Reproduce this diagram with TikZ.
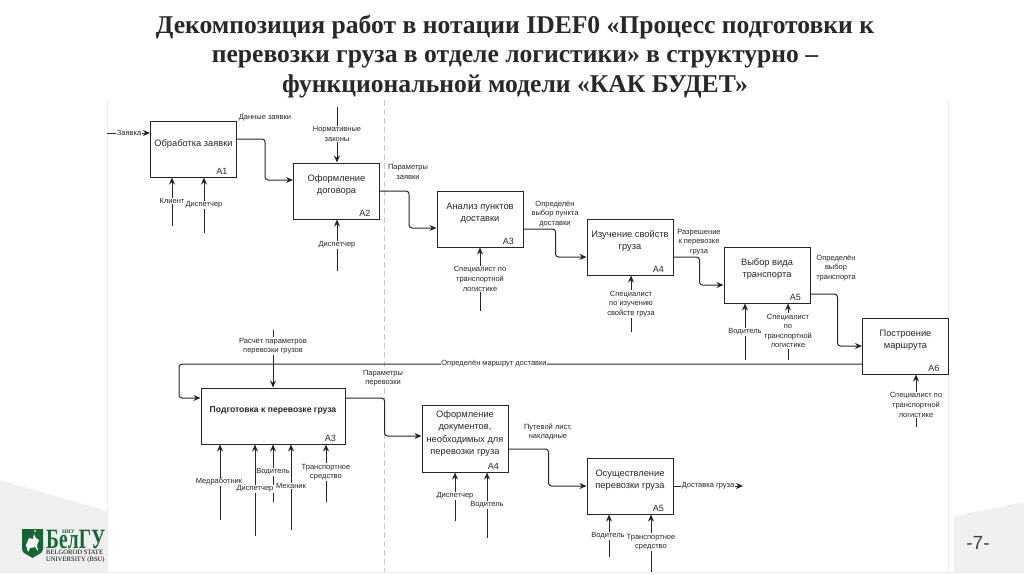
\documentclass[tikz,border=0pt]{standalone}
\usepackage{fontspec}
\setmainfont{Liberation Serif}
\setsansfont{Liberation Sans}
\usetikzlibrary{arrows.meta, positioning}
\definecolor{panelgray}{RGB}{240,240,240}
\definecolor{logogreen}{RGB}{22,101,52}
\definecolor{titlegray}{RGB}{40,40,40}

\begin{document}
\begin{tikzpicture}[
  x=1pt, y=-1pt,
  block/.style={draw, line width=1pt, black!85, minimum width=86pt, minimum height=56pt, inner sep=0pt},
  blocktext/.style={font=\sffamily\fontsize{9.3}{12.4}\selectfont, align=center, text=black!85, inner sep=0pt},
  num/.style={anchor=south east, font=\sffamily\fontsize{9}{10}\selectfont, text=black!85, inner xsep=9.5pt, inner ysep=2.5pt},
  lbl/.style={fill=white, font=\sffamily\fontsize{7.5}{9.6}\selectfont, align=center, text=black!85, inner sep=0.6pt},
  arr/.style={-{Stealth[length=7pt,width=6pt]}, line width=1pt, black!85},
  flow/.style={arr, rounded corners=3pt},
  logotext/.style={font=\bfseries\fontsize{28}{28}\selectfont, text=logogreen, anchor=base west, inner sep=0pt, xscale=0.69}
]
  \useasboundingbox (0,0) rectangle (1024,574);

  % Slide background
  \fill[panelgray] (0,480) -- (107,511) -- (107,572) -- (0,572) -- cycle;
  \fill[panelgray] (954,516) -- (1024,502) -- (1024,572) -- (954,572) -- cycle;
  \draw[gray!15] (107,100) -- (107,572);
  \draw[gray!15] (948,100) -- (948,572);
  \draw[gray!15] (0,572) -- (1024,572);

  % Title
  \node[font=\bfseries\fontsize{25.6}{29.6}\selectfont, align=center, text=titlegray, inner sep=0pt] (title) at (515,56.5)
    {Декомпозиция работ в нотации IDEF0 «Процесс подготовки к\\перевозки груза в отделе логистики» в структурно –\\функциональной модели «КАК БУДЕТ»};

  % Separator
  \coordinate (septop) at (384,100);
  \coordinate (sepbot) at (384,572);
  \draw[gray!45, dash pattern=on 6pt off 3pt] (septop) -- (sepbot);

  % Blocks
  \node[block] (a1) at (193.5,149) {};
  \node[block] (a2) at (336.5,191) {};
  \node[block] (a3) at (480,219) {};
  \node[block] (a4) at (630,247) {};
  \node[block] (a5) at (767,275) {};
  \node[block] (a6) at (905.5,346) {};
  \node[block, minimum width=144pt] (b3) at (273,416) {};
  \node[block, minimum height=67pt] (b4) at (465,438.5) {};
  \node[block] (b5) at (630,486) {};

  \node[blocktext] (a1t) at ([yshift=5pt]a1.center) {Обработка заявки};
  \node[blocktext] (a2t) at ([yshift=6pt]a2.center) {Оформление\\договора};
  \node[blocktext] (a3t) at ([yshift=6pt]a3.center) {Анализ пунктов\\доставки};
  \node[blocktext] (a4t) at ([yshift=6pt]a4.center) {Изучение свойств\\груза};
  \node[blocktext] (a5t) at ([yshift=6pt]a5.center) {Выбор вида\\транспорта};
  \node[blocktext] (a6t) at ([yshift=6pt]a6.center) {Построение\\маршрута};
  \node[blocktext, font=\sffamily\bfseries\fontsize{8.6}{12}\selectfont] (b3t) at ([yshift=6pt]b3.center) {Подготовка к перевозке груза};
  \node[blocktext] (b4t) at ([yshift=5pt]b4.center) {Оформление\\документов,\\необходимых для\\перевозки груза};
  \node[blocktext] (b5t) at ([yshift=6pt]b5.center) {Осуществление\\перевозки груза};

  \node[num] (a1n) at (a1.south east) {A1};
  \node[num] (a2n) at (a2.south east) {A2};
  \node[num] (a3n) at (a3.south east) {A3};
  \node[num] (a4n) at (a4.south east) {A4};
  \node[num] (a5n) at (a5.south east) {A5};
  \node[num] (a6n) at (a6.south east) {A6};
  \node[num] (b3n) at (b3.south east) {A3};
  \node[num] (b4n) at (b4.south east) {A4};
  \node[num] (b5n) at (b5.south east) {A5};

  % Free ends
  \coordinate (zin) at (107,133);
  \coordinate (a1c) at (172,226);
  \coordinate (a1d) at (204,233);
  \coordinate (a2z) at (337,107);
  \coordinate (a2d) at (337,271);
  \coordinate (a3s) at (480,311);
  \coordinate (a4s) at (631,332);
  \coordinate (a5v) at (745,360);
  \coordinate (a5s) at (788,360);
  \coordinate (a6s) at (916,427);
  \coordinate (b3r) at (273,330);
  \coordinate (b3m) at (220,520);
  \coordinate (b3d) at (255,536);
  \coordinate (b3v) at (273,502);
  \coordinate (b3k) at (291,530);
  \coordinate (b3t2) at (326,502);
  \coordinate (b4d) at (455,521);
  \coordinate (b4v) at (487,538);
  \coordinate (b5v) at (609,557);
  \coordinate (b5t2) at (651,572);
  \coordinate (bout) at (743,486);

  % Arrows
  \draw[flow] ([yshift=10pt]a1.east) -- ++(28,0) |- ([yshift=11pt]a2.west);
  \draw[flow] (a2.east) -- ++(29,0) |- ([yshift=-9pt]a3.west);
  \draw[flow] ([yshift=-10pt]a3.east) -- ++(32,0) |- ([yshift=-10pt]a4.west);
  \draw[flow] ([yshift=-10pt]a4.east) -- ++(26,0) |- ([yshift=-10pt]a5.west);
  \draw[flow] ([yshift=-19pt]a5.east) -- ++(27,0) |- (a6.west);
  \draw[flow] ([yshift=-18pt]a6.west) -- ++(-683,0) |- ([yshift=18pt]b3.west);
  \draw[flow] ([yshift=18pt]b3.east) -- ++(39,0) |- ([yshift=2.5pt]b4.west);
  \draw[flow] ([yshift=-10.5pt]b4.east) -- ++(40,0) |- (b5.west);

  \draw[arr] (zin) -- (zin -| a1.west);
  \draw[arr] (b5.east) -- (bout);
  \draw[arr] (a1c) -- (a1c |- a1.south);
  \draw[arr] (a1d) -- (a1d |- a1.south);
  \draw[arr] (a2z) -- (a2z |- a2.north);
  \draw[arr] (a2d) -- (a2d |- a2.south);
  \draw[arr] (a3s) -- (a3s |- a3.south);
  \draw[arr] (a4s) -- (a4s |- a4.south);
  \draw[arr] (a5v) -- (a5v |- a5.south);
  \draw[arr] (a5s) -- (a5s |- a5.south);
  \draw[arr] (a6s) -- (a6s |- a6.south);
  \draw[arr] (b3r) -- (b3r |- b3.north);
  \draw[arr] (b3m) -- (b3m |- b3.south);
  \draw[arr] (b3d) -- (b3d |- b3.south);
  \draw[arr] (b3v) -- (b3v |- b3.south);
  \draw[arr] (b3k) -- (b3k |- b3.south);
  \draw[arr] (b3t2) -- (b3t2 |- b3.south);
  \draw[arr] (b4d) -- (b4d |- b4.south);
  \draw[arr] (b4v) -- (b4v |- b4.south);
  \draw[arr] (b5v) -- (b5v |- b5.south);
  \draw[arr] (b5t2) -- (b5t2 |- b5.south);

  % Labels
  \node[lbl] (lzin) at (129,133) {Заявка};
  \node[lbl] (ldz) at (265,118) {Данные заявки};
  \node[lbl] (lkl) at (172,201) {Клиент};
  \node[lbl] (ld1) at (204,205) {Диспетчер};
  \node[lbl] (lnz) at (337,134) {Нормативные\\законы};
  \node[lbl] (ld2) at (337,245) {Диспетчер};
  \node[lbl] (lpz) at (408,172) {Параметры\\заявки};
  \node[lbl] (ls3) at (480,279) {Специалист по\\транспортной\\логистике};
  \node[lbl] (lvp) at (555,214) {Определён\\выбор пункта\\доставки};
  \node[lbl] (ls4) at (631,304) {Специалист\\по изучению\\свойств груза};
  \node[lbl] (lrp) at (699,242) {Разрешение\\к перевозке\\груза};
  \node[lbl] (lv5) at (745,332) {Водитель};
  \node[lbl] (ls5) at (788,331) {Специалист\\по\\транспортной\\логистике};
  \node[lbl] (lvt) at (836,268) {Определён\\выбор\\транспорта};
  \node[lbl] (ls6) at (916,405) {Специалист по\\транспортной\\логистике};
  \node[lbl] (lom) at (494,364) {Определён маршрут доставки};
  \node[lbl] (lrs) at (273,346) {Расчёт параметров\\перевозки грузов};
  \node[lbl] (lpp) at (383,378) {Параметры\\перевозки};
  \node[lbl] (lmr) at (219,482) {Медработник};
  \node[lbl] (ldb) at (255,489) {Диспетчер};
  \node[lbl] (lvb) at (273,472) {Водитель};
  \node[lbl] (lmh) at (291,486) {Механик};
  \node[lbl] (lts) at (326,472) {Транспортное\\средство};
  \node[lbl] (ld4) at (455,496) {Диспетчер};
  \node[lbl] (lv4) at (487,505) {Водитель};
  \node[lbl] (lpl) at (548,432) {Путевой лист,\\накладные};
  \node[lbl] (ldg) at (708,486) {Доставка груза};
  \node[lbl] (lv6) at (608,536) {Водитель};
  \node[lbl] (lt6) at (651,542) {Транспортное\\средство};

  % Logo
  \fill[logogreen] (22,529) -- (43,529) -- (43,549) .. controls (43,554) and (36,555) .. (32.5,558) .. controls (29,555) and (22,554) .. (22,549) -- cycle;
  \fill[white] (26,545) -- (29,538) -- (33,539) -- (34,534) -- (36,538) -- (39,540) -- (37,545) -- (38,551) -- (35,547) -- (30,548) -- (28,552) -- cycle;
  \fill[yellow!70!white] (35,531) circle (1.2);
  \node[logotext] (logob) at (46,548.5) {Б};
  \node[logotext] (logoel) at (logob.base east) {ел};
  \node[logotext] (logogu) at (logoel.base east) {ГУ};
  \node[font=\bfseries\fontsize{5.5}{6}\selectfont, text=logogreen, inner sep=0pt] (logoniu) at (68.5,531.5) {НИУ};
  \node[font=\fontsize{6.6}{7}\selectfont, align=left, anchor=north west, inner sep=0pt] (logoen) at (46,549.5) {BELGOROD STATE\\UNIVERSITY (BSU)};

  % Page number
  \node[font=\sffamily\fontsize{19}{19}\selectfont, text=black!75, inner sep=0pt] (pagenum) at (978,543) {-7-};
\end{tikzpicture}
\end{document}
